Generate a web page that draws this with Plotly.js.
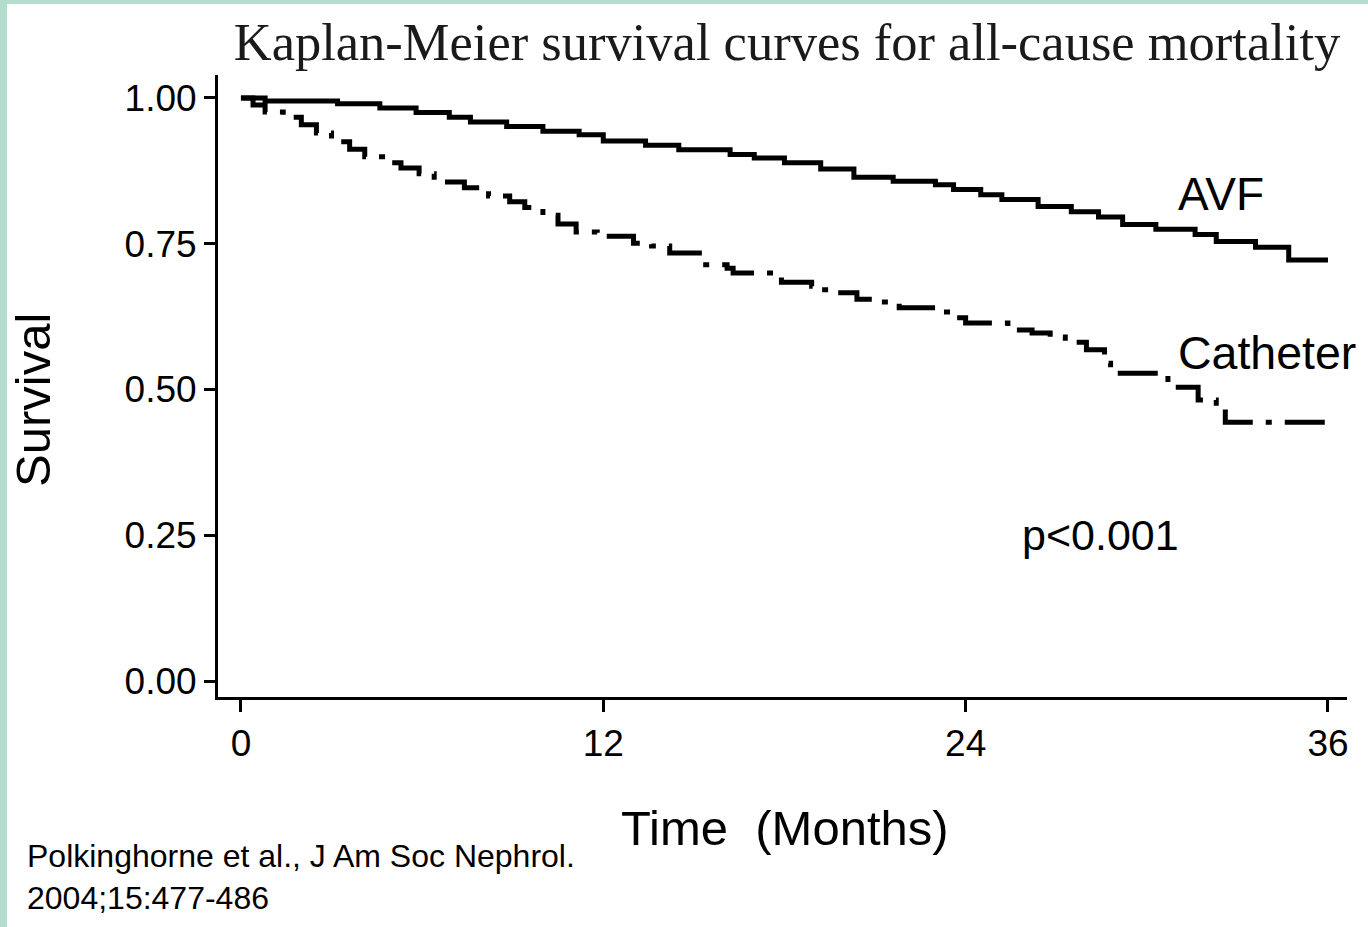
<!DOCTYPE html>
<html>
<head>
<meta charset="utf-8">
<script src="https://cdn.plot.ly/plotly-3.0.1.min.js"></script>
<style>
  html, body { margin: 0; padding: 0; background: #ffffff; }
  #wrap { position: relative; width: 1368px; height: 927px; overflow: hidden; }
  #chart { position: absolute; left: 0; top: 0; width: 1368px; height: 927px; }
  .edge { position: absolute; background: #b3ddcc; z-index: 5; }
</style>
</head>
<body>
<div id="wrap">
  <div id="chart"></div>
  <div class="edge" style="left:0;top:0;width:1368px;height:4px;"></div>
  <div class="edge" style="left:0;top:0;width:7px;height:927px;"></div>
</div>
<script>
// ---- Data ----
const avfMonths = [0, 0.8, 3.2, 4.6, 5.8, 6.9, 7.6, 8.8, 10.0, 11.2, 12.0, 13.4, 14.5, 16.2, 17.0, 18.0, 19.2, 20.3, 21.6, 23.0, 23.6, 24.5, 25.2, 26.4, 27.5, 28.4, 29.2, 30.3, 31.6, 32.3, 33.6, 34.7, 36.0];
const avfSurvival = [1.0, 0.995, 0.99, 0.983, 0.975, 0.967, 0.959, 0.951, 0.943, 0.937, 0.926, 0.919, 0.911, 0.903, 0.897, 0.889, 0.878, 0.864, 0.857, 0.851, 0.843, 0.834, 0.826, 0.814, 0.805, 0.796, 0.783, 0.775, 0.766, 0.754, 0.744, 0.722, 0.722];

const catheterMonths = [0, 0.4, 0.8, 1.4, 2.0, 2.5, 3.0, 3.6, 4.1, 4.8, 5.3, 5.9, 6.4, 7.4, 8.2, 8.9, 9.4, 10.0, 10.5, 11.1, 11.8, 13.0, 13.6, 14.2, 15.3, 16.1, 16.3, 17.9, 18.9, 19.1, 19.7, 20.4, 21.0, 21.8, 23.0, 23.6, 24.0, 25.4, 26.2, 26.8, 27.3, 28.0, 28.6, 28.8, 30.7, 31.7, 32.3, 32.6, 36.0];
const catheterSurvival = [1.0, 0.988, 0.976, 0.967, 0.954, 0.94, 0.925, 0.912, 0.899, 0.889, 0.880, 0.870, 0.856, 0.846, 0.832, 0.822, 0.812, 0.799, 0.784, 0.770, 0.763, 0.751, 0.746, 0.734, 0.714, 0.708, 0.700, 0.684, 0.677, 0.671, 0.666, 0.655, 0.650, 0.640, 0.633, 0.623, 0.614, 0.602, 0.597, 0.590, 0.581, 0.568, 0.545, 0.528, 0.504, 0.482, 0.470, 0.444, 0.444];

const xTickVals = [0, 12, 24, 36];
const xTickText = ["0", "12", "24", "36"];
const yTickVals = [0, 0.25, 0.5, 0.75, 1.0];
const yTickText = ["0.00", "0.25", "0.50", "0.75", "1.00"];

const titleText = "Kaplan-Meier survival curves for all-cause mortality";
const xTitleText = "Time&nbsp;&nbsp;(Months)";
const yTitleText = "Survival";
const avfLabel = "AVF";
const catheterLabel = "Catheter";
const pValueText = "p<0.001";
const citationText = "Polkinghorne et al., J Am Soc Nephrol.<br>2004;15:477-486";

// ---- Layout geometry ----
const W = 1368, H = 927;
const M = { l: 218, r: 21, t: 75, b: 230 };
const plotW = W - M.l - M.r, plotH = H - M.t - M.b;
const px = x => (x - M.l) / plotW;           // page px -> paper x
const py = y => (H - M.b - y) / plotH;        // page px -> paper y

const sans = "Liberation Sans, Arial, Helvetica, sans-serif";
const serif = "Liberation Serif, Times New Roman, serif";

const traces = [
  {
    x: avfMonths, y: avfSurvival, type: "scatter", mode: "lines",
    line: { shape: "hv", color: "#000000", width: 5 },
    name: avfLabel, hoverinfo: "x+y"
  },
  {
    x: catheterMonths, y: catheterSurvival, type: "scatter", mode: "lines",
    line: { shape: "hv", color: "#000000", width: 5, dash: "40px,13px,6px,13px" },
    name: catheterLabel, hoverinfo: "x+y"
  }
];

const layout = {
  width: W, height: H,
  margin: M,
  paper_bgcolor: "#ffffff", plot_bgcolor: "#ffffff",
  showlegend: false,
  title: {
    text: titleText,
    font: { family: serif, size: 52.5, color: "#1a1a1a" },
    x: 787 / W, xref: "container", xanchor: "center",
    y: 1 - 42 / H, yref: "container", yanchor: "middle"
  },
  xaxis: {
    range: [-0.76, 36.63],
    showgrid: false, zeroline: false,
    showline: true, linecolor: "#000000", linewidth: 3,
    ticks: "outside", ticklen: 12, tickwidth: 3, tickcolor: "#000000",
    tickvals: xTickVals, ticktext: xTickText,
    tickfont: { family: sans, size: 37, color: "#000000" },
    fixedrange: true
  },
  yaxis: {
    range: [-0.0274, 1.0394],
    showgrid: false, zeroline: false,
    showline: true, linecolor: "#000000", linewidth: 3,
    ticks: "outside", ticklen: 11, tickwidth: 3, tickcolor: "#000000",
    tickvals: yTickVals, ticktext: yTickText,
    tickfont: { family: sans, size: 37, color: "#000000" },
    fixedrange: true
  },
  annotations: [
    { text: xTitleText, xref: "paper", yref: "paper", x: px(785), y: py(828),
      xanchor: "center", yanchor: "middle", showarrow: false,
      font: { family: sans, size: 49, color: "#000000" } },
    { text: yTitleText, xref: "paper", yref: "paper", x: px(33), y: py(400),
      xanchor: "center", yanchor: "middle", showarrow: false, textangle: -90,
      font: { family: sans, size: 49, color: "#000000" } },
    { text: avfLabel, xref: "paper", yref: "paper", x: px(1176), y: py(194),
      xanchor: "left", yanchor: "middle", showarrow: false,
      font: { family: sans, size: 46, color: "#000000" } },
    { text: catheterLabel, xref: "paper", yref: "paper", x: px(1176), y: py(353),
      xanchor: "left", yanchor: "middle", showarrow: false,
      font: { family: sans, size: 46.5, color: "#000000" } },
    { text: pValueText, xref: "paper", yref: "paper", x: px(1020), y: py(535),
      xanchor: "left", yanchor: "middle", showarrow: false,
      font: { family: sans, size: 43, color: "#000000" } },
    { text: citationText, xref: "paper", yref: "paper", x: px(25), y: py(877),
      xanchor: "left", yanchor: "middle", showarrow: false, align: "left",
      font: { family: sans, size: 32, color: "#000000" } }
  ]
};

Plotly.newPlot("chart", traces, layout, { staticPlot: true, displayModeBar: false });
</script>
</body>
</html>
